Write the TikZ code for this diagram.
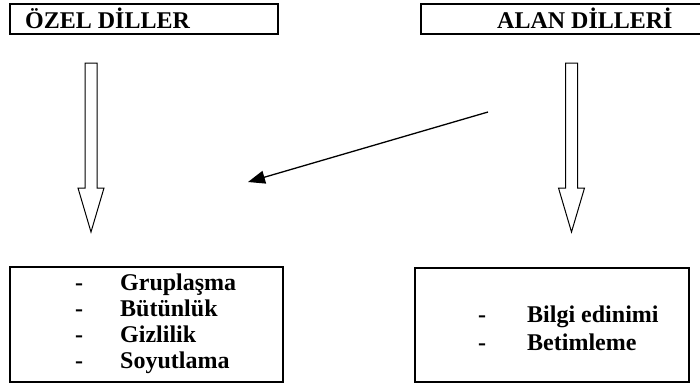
\documentclass[tikz,border=0pt]{standalone}
\usepackage{fontspec}
\setmainfont{Liberation Serif}
\usepackage{tikz}
\usetikzlibrary{positioning,arrows.meta}

\begin{document}
\begin{tikzpicture}[x=1pt, y=-1pt,
				box/.style={rectangle, draw=black, line width=2pt, inner sep=0pt},
				word/.style={inner sep=0pt, font=\fontsize{24}{26}\selectfont\bfseries},
				blockarrow/.style={draw=black, line width=1pt, fill=white, line join=miter},
				]
				\useasboundingbox (0,0) rectangle (700,383);
				%Boxes
				\node[box, minimum width=268pt, minimum height=30pt]      (ozel) 	at 	(144,19)        {};
				\node[box, minimum width=280pt, minimum height=30pt]      (alan) 	at 	(561,19)        {};
				\node[box, minimum width=273pt, minimum height=115pt]     (ozellist) 	at 	(146.5,324.5)   {};
				\node[box, minimum width=274pt, minimum height=114pt]     (alanlist) 	at 	(552,325)       {};
				
				%Titles
				\node[word, anchor=base west]      (ozeltitle) 	at 	(25,28)   {ÖZEL DİLLER};
				\node[word, anchor=base west]      (alantitle) 	at 	(497,28)  {ALAN DİLLERİ};
				
				%Lists
				\foreach \w [count=\i] in {Gruplaşma, Bütünlük, Gizlilik, Soyutlama} {
					\node[word, anchor=base]        (od\i) 	at 	(79,264+26*\i)    {-};
					\node[word, anchor=base west]   (o\i) 	at 	(120,264+26*\i)   {\w};
				}
				\foreach \w [count=\i] in {Bilgi edinimi, Betimleme} {
					\node[word, anchor=base]        (ad\i) 	at 	(482,294+28*\i)   {-};
					\node[word, anchor=base west]   (a\i) 	at 	(527,294+28*\i)   {\w};
				}
				
				%Arrows
				\coordinate (ozeltop)  at (91,63);
				\coordinate (alantop)  at (571.5,63);
				\draw[blockarrow] (ozeltop) ++(-6,0) -- ++(12,0) -- ++(0,125) -- ++(7,0) -- ++(-13,44) -- ++(-13,-44) -- ++(7,0) -- cycle;
				\draw[blockarrow] (alantop) ++(-6,0) -- ++(12,0) -- ++(0,125) -- ++(7,0) -- ++(-13,44) -- ++(-13,-44) -- ++(7,0) -- cycle;
				
				\coordinate (diagstart) at (488,112);
				\coordinate (diagend)   at (248,182);
				\draw[line width=1.3pt, -{Triangle[length=17pt, width=13pt]}] (diagstart) -- (diagend);
			\end{tikzpicture}
\end{document}
